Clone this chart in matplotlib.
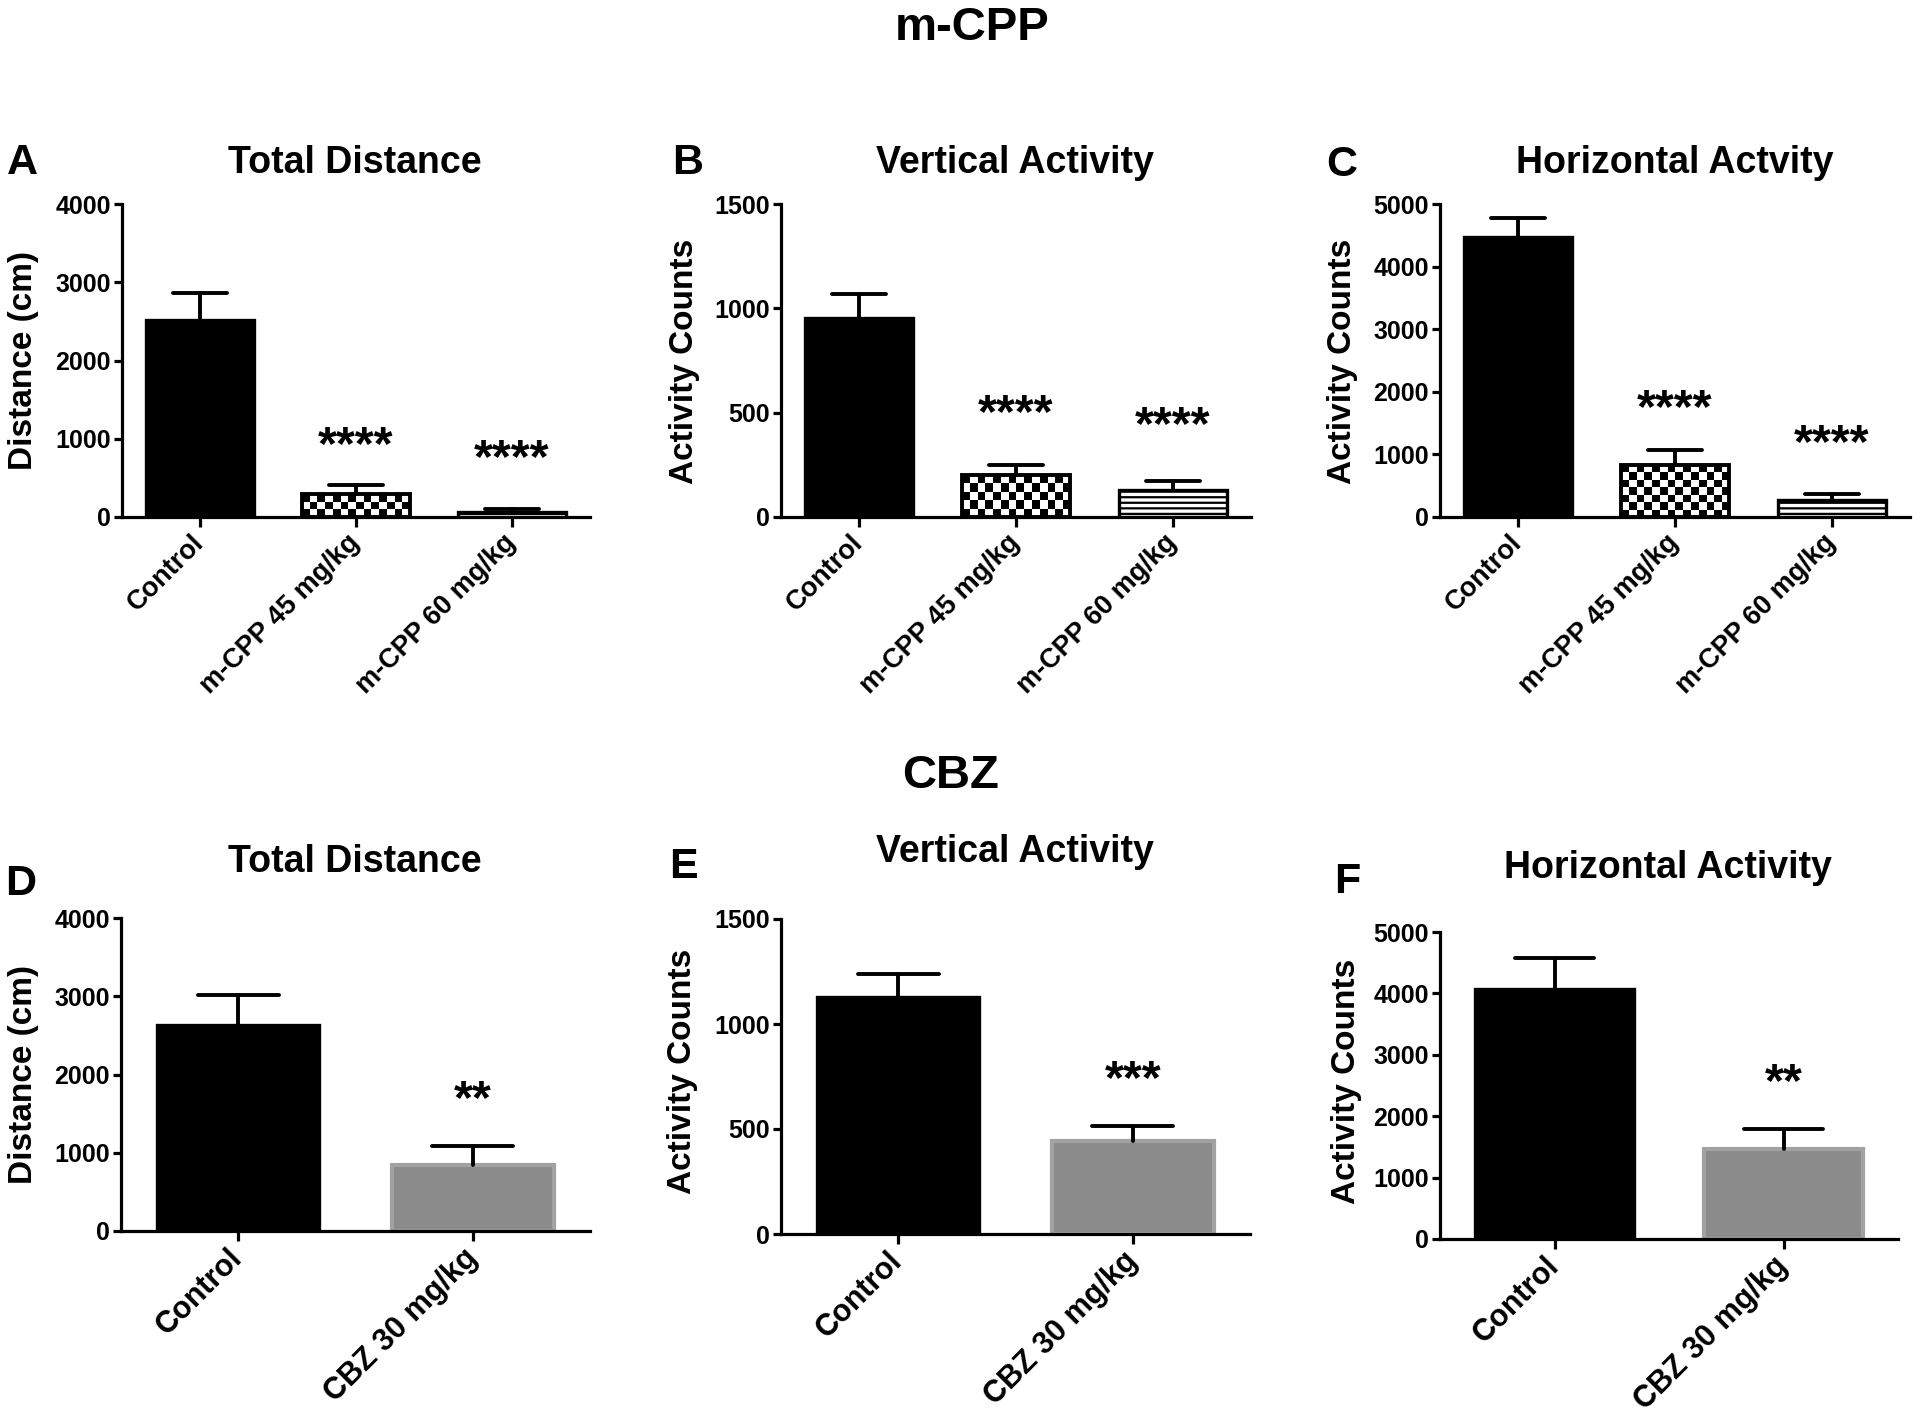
import matplotlib
matplotlib.use("Agg")
import matplotlib.pyplot as plt
import numpy as np

plt.rcParams['font.family'] = ['Liberation Sans', 'DejaVu Sans']
plt.rcParams['font.weight'] = 'bold'
plt.rcParams['hatch.linewidth'] = 1.6

W, H = 1920, 1413

# ---------------- data ----------------
groups_top = ["Control", "m-CPP 45 mg/kg", "m-CPP 60 mg/kg"]
groups_bot = ["Control", "CBZ 30 mg/kg"]

A_mean = [2520, 289, 68]
A_err = [343, 115, 30]
A_stars = ["", "****", "****"]
A_star_y = [0, 905, 735]

B_mean = [956, 201, 129]
B_err = [112, 46, 43]
B_stars = ["", "****", "****"]
B_star_y = [0, 491, 435]

C_mean = [4480, 829, 266]
C_err = [291, 234, 95]
C_stars = ["", "****", "****"]
C_star_y = [0, 1716, 1158]

D_mean = [2630, 843]
D_err = [383, 242]
D_stars = ["", "**"]
D_star_y = [0, 1672]

E_mean = [1129, 445]
E_err = [107, 67]
E_stars = ["", "***"]
E_star_y = [0, 732]

F_mean = [4069, 1471]
F_err = [506, 326]
F_stars = ["", "**"]
F_star_y = [0, 2533]

styles_top = ["solid", "check", "lines"]
styles_bot = ["solid", "gray"]

panels = [
    dict(letter="A", title="Total Distance", ylabel="Distance (cm)", groups=groups_top,
         mean=A_mean, err=A_err, stars=A_stars, star_y=A_star_y, styles=styles_top,
         ymax=4000, ystep=1000, box=(122, 590, 204, 517), xfs=19.5,
         title_xy=(355, 163), letter_xy=(22, 163), ylab_xy=(24, 361)),
    dict(letter="B", title="Vertical Activity", ylabel="Activity Counts", groups=groups_top,
         mean=B_mean, err=B_err, stars=B_stars, star_y=B_star_y, styles=styles_top,
         ymax=1500, ystep=500, box=(781, 1251, 204, 517), xfs=19.5,
         title_xy=(1015, 163), letter_xy=(688, 163), ylab_xy=(684, 361)),
    dict(letter="C", title="Horizontal Actvity", ylabel="Activity Counts", groups=groups_top,
         mean=C_mean, err=C_err, stars=C_stars, star_y=C_star_y, styles=styles_top,
         ymax=5000, ystep=1000, box=(1440, 1910, 204, 517), xfs=19.5,
         title_xy=(1675, 163), letter_xy=(1342, 165), ylab_xy=(1343, 361)),
    dict(letter="D", title="Total Distance", ylabel="Distance (cm)", groups=groups_bot,
         mean=D_mean, err=D_err, stars=D_stars, star_y=D_star_y, styles=styles_bot,
         ymax=4000, ystep=1000, box=(121, 590, 918, 1231), xfs=22,
         title_xy=(355, 862), letter_xy=(21, 884), ylab_xy=(24, 1074)),
    dict(letter="E", title="Vertical Activity", ylabel="Activity Counts", groups=groups_bot,
         mean=E_mean, err=E_err, stars=E_stars, star_y=E_star_y, styles=styles_bot,
         ymax=1500, ystep=500, box=(781, 1250, 919, 1234), xfs=22,
         title_xy=(1015, 852), letter_xy=(683, 867), ylab_xy=(683, 1071)),
    dict(letter="F", title="Horizontal Activity", ylabel="Activity Counts", groups=groups_bot,
         mean=F_mean, err=F_err, stars=F_stars, star_y=F_star_y, styles=styles_bot,
         ymax=5000, ystep=1000, box=(1440, 1898, 932, 1239), xfs=22,
         title_xy=(1668, 868), letter_xy=(1347, 882), ylab_xy=(1347, 1081)),
]

fig = plt.figure(figsize=(W / 100, H / 100), dpi=100)

def fx(x):
    return x / W

def fy(y):
    return 1 - y / H

BW = 0.69
LW = 2.4

for p in panels:
    x0, x1, ytop, y0 = p["box"]
    ax = fig.add_axes([fx(x0), fy(y0), (x1 - x0) / W, (y0 - ytop) / H])
    n = len(p["groups"])
    xs = np.arange(n)
    ax.set_xlim(-0.5, n - 0.5)
    ax.set_ylim(0, p["ymax"])

    for i, (m, e, st) in enumerate(zip(p["mean"], p["err"], p["styles"])):
        if st == "solid":
            b = ax.bar(xs[i], m, width=BW, color="black", edgecolor="black", linewidth=LW, zorder=1)
        elif st == "gray":
            b = ax.bar(xs[i], m, width=BW, color="#8b8b8b", edgecolor="#a2a2a2", linewidth=3, zorder=1)
        elif st == "lines":
            b = ax.bar(xs[i], m, width=BW, color="white", edgecolor="black", hatch="---",
                       linewidth=LW, zorder=1)
        else:  # checkerboard
            b = ax.bar(xs[i], m, width=BW, color="white", edgecolor="none", zorder=1)
            patch = b.patches[0]
            bx, bw = patch.get_x(), patch.get_width()
            p0 = ax.transData.transform((bx, 0))
            p1 = ax.transData.transform((bx + bw, m))
            ncols = max(2, int(round(abs(p1[0] - p0[0]) / 7.8)))
            nrows = max(1, int(round(abs(p1[1] - p0[1]) / 7.8)))
            ii, jj = np.indices((nrows, ncols))
            board = ((ii + jj) % 2).astype(float)
            im = ax.imshow(board, cmap="gray", vmin=0, vmax=1, extent=(bx, bx + bw, 0, m),
                           aspect="auto", interpolation="nearest", zorder=1.5)
            im.set_clip_path(patch)
            ax.bar(xs[i], m, width=BW, fill=False, edgecolor="black", linewidth=LW + 0.4, zorder=2)
        # error bar (upper only)
        ax.plot([xs[i], xs[i]], [m, m + e], color="black", lw=2.8,
                solid_capstyle="round", zorder=3)
        ax.plot([xs[i] - BW / 4, xs[i] + BW / 4], [m + e, m + e], color="black", lw=2.8,
                solid_capstyle="round", zorder=3)

    for i, (s, sy) in enumerate(zip(p["stars"], p["star_y"])):
        if s:
            ax.text(xs[i], sy, s, ha="center", va="center", fontsize=35, fontweight="bold")

    ax.set_aspect("auto")
    ax.set_xlim(-0.5, n - 0.5)
    ax.set_ylim(0, p["ymax"])
    ax.spines["top"].set_visible(False)
    ax.spines["right"].set_visible(False)
    for s in ("left", "bottom"):
        ax.spines[s].set_linewidth(2.3)
        ax.spines[s].set_zorder(4)
    ax.set_yticks(np.arange(0, p["ymax"] + 1, p["ystep"]))
    ax.tick_params(axis="y", length=6, width=2.3, labelsize=18, pad=2)
    ax.tick_params(axis="x", length=7, width=2.3, pad=9)
    ax.set_xticks(xs)
    ax.set_xticklabels(p["groups"], rotation=45, ha="right", va="center",
                       rotation_mode="anchor", fontsize=p["xfs"], fontweight="bold")
    for lab in ax.get_yticklabels():
        lab.set_fontweight("bold")

    fig.text(fx(p["title_xy"][0]), fy(p["title_xy"][1]), p["title"], ha="center", va="center",
             fontsize=27, fontweight="bold")
    fig.text(fx(p["letter_xy"][0]), fy(p["letter_xy"][1]), p["letter"], ha="center", va="center",
             fontsize=31, fontweight="bold")
    fig.text(fx(p["ylab_xy"][0]), fy(p["ylab_xy"][1]), p["ylabel"], ha="center", va="center",
             rotation=90, fontsize=24, fontweight="bold")

fig.text(fx(972), fy(28), "m-CPP", ha="center", va="center", fontsize=34, fontweight="bold")
fig.text(fx(951), fy(776), "CBZ", ha="center", va="center", fontsize=34, fontweight="bold")

fig.savefig("out.png", dpi=100, facecolor="white")
